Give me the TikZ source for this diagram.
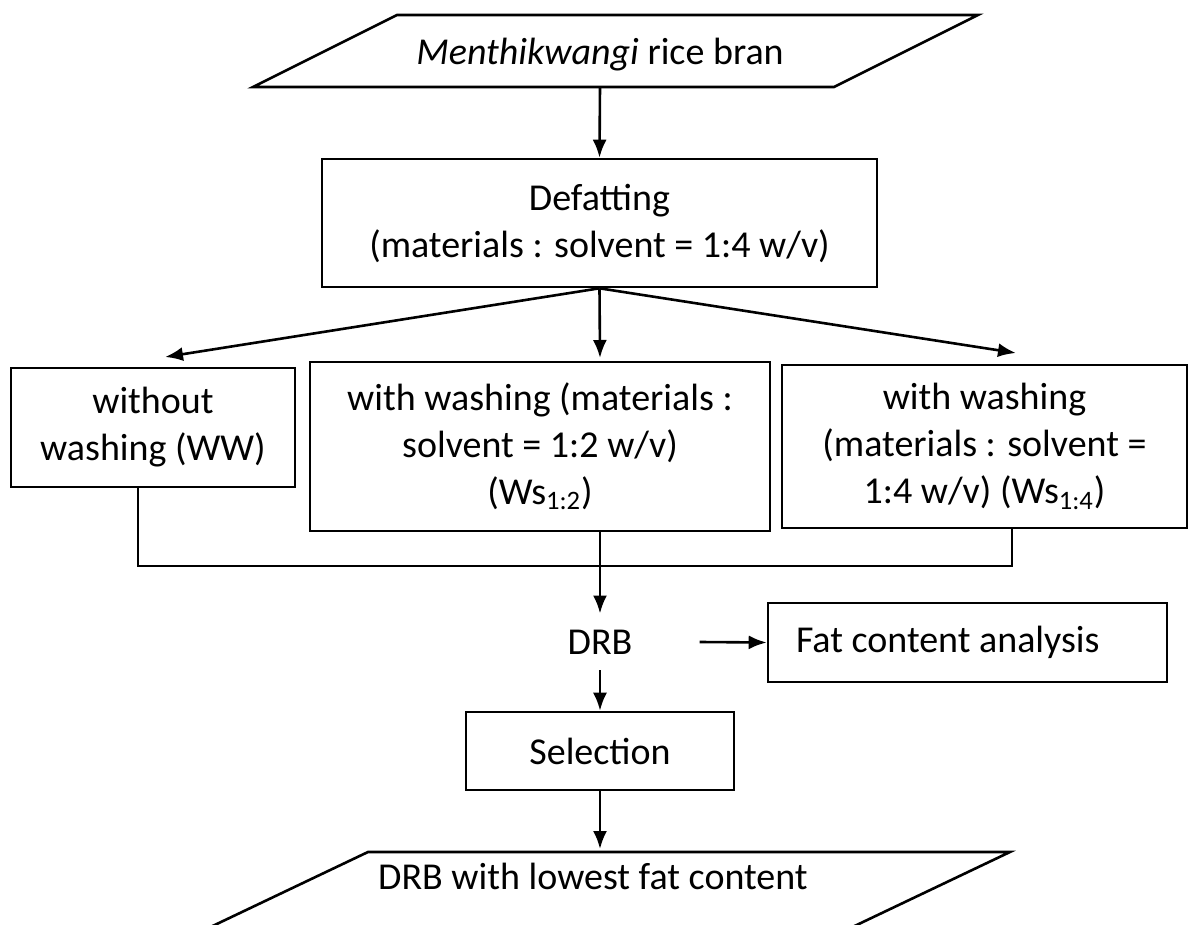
\documentclass[tikz,border=0pt]{standalone}
\usepackage{fontspec}
\setmainfont{Carlito}
\usetikzlibrary{arrows.meta,calc}
\begin{document}
\begin{tikzpicture}[x=0.5pt,y=-0.5pt,
  line width=1.3pt,
  box/.style={draw, line width=1.3pt, inner sep=0pt, align=center, font=\fontsize{19}{23.5}\selectfont},
  txt/.style={inner sep=0pt, align=center, font=\fontsize{19}{23.5}\selectfont},
  arr/.style={-{Latex[length=9pt,width=7pt]}, line width=1.3pt}]
\useasboundingbox (0,0) rectangle (1190,925);
\clip (0,0) rectangle (1190,925);
% top parallelogram
\draw (397,15) -- (978,15) -- (834,87) -- (253,87) -- cycle;
\node[txt] (src) at (600,55) {\textit{Menthikwangi} rice bran};
\coordinate (srcB) at (600,87);
% defatting
\node[box, minimum width=277.5pt, minimum height=64pt] (def) at (599.5,223)
  {Defatting\\(materials : solvent = 1:4 w/v)};
% three options
\node[box, minimum width=142pt, minimum height=59.5pt] (ww) at (153,427.5)
  {without\\washing (WW)};
\node[box, minimum width=230pt, minimum height=84.5pt] (mid) at (540,446.5)
  {with washing (materials :\\solvent = 1:2 w/v)\\(Ws\textsubscript{1:2})};
\node[box, minimum width=202.5pt, minimum height=81.5pt] (rt) at (984.5,446.5)
  {with washing\\(materials : solvent =\\1:4 w/v) (Ws\textsubscript{1:4})};
\coordinate (tL) at (165,357);
\coordinate (tM) at (600,358);
\coordinate (tR) at (1016,353);
\draw[arr] (srcB) -- (def.north);
\draw[arr] (def.south) -- (tL);
\draw[arr] (def.south) -- (tM);
\draw[arr] (def.south) -- (tR);
% join
\coordinate (jL) at (138,566);
\coordinate (jR) at (1012,566);
\draw (jL |- ww.south) -- (jL) -- (jR) -- (jR |- rt.south);
% DRB
\node[txt, inner xsep=33pt, inner ysep=7.5pt] (drb) at (600,642) {DRB};
\draw[arr] (drb.north |- mid.south) -- (drb.north);
\node[box, minimum width=199.5pt, minimum height=39.5pt] (fat) at (967.5,642.5) {};
\node[txt, anchor=west] (fatT) at ($(fat.west)+(28,0)$) {Fat content analysis};
\draw[arr] (drb.east) -- (fat.west);
\node[box, minimum width=134pt, minimum height=39pt] (sel) at (600,751) {Selection};
\draw[arr] (drb.south) -- (sel.north);
% bottom parallelogram
\draw (368,852) -- (1010,852) -- (800,952) -- (158,952) -- cycle;
\node[txt] (dst) at (593,876) {DRB with lowest fat content};
\coordinate (dstT) at (600,849);
\draw[arr] (sel.south) -- (dstT);
\end{tikzpicture}
\end{document}
